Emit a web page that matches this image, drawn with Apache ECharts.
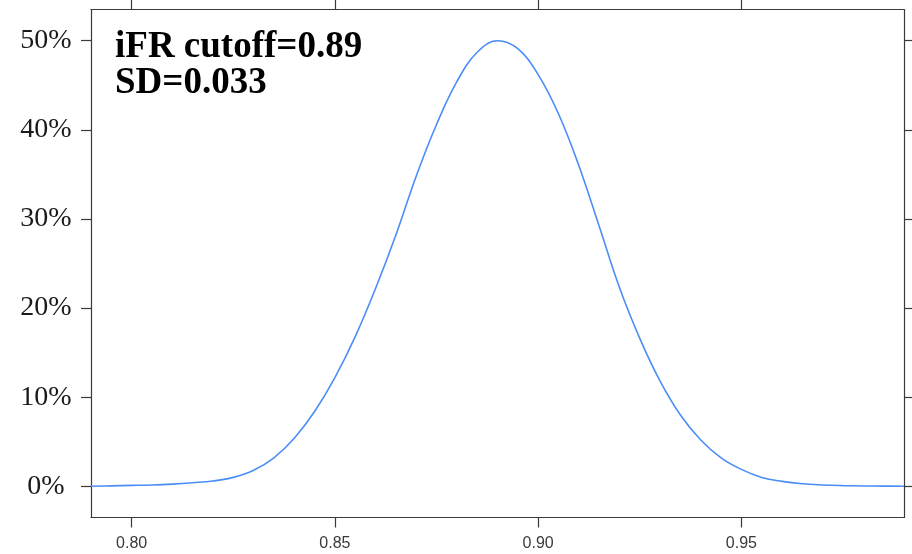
<!DOCTYPE html>
<html>
<head>
<meta charset="utf-8">
<script src="https://cdn.jsdelivr.net/npm/echarts@6/dist/echarts.min.js"></script>
<style>
  html, body { margin: 0; padding: 0; background: #fff; }
  #main { width: 912px; height: 554px; }
</style>
</head>
<body>
<div id="main"></div>
<script>
// values (x = iFR, y = percent)
var xValues = [0.790, 0.795, 0.800, 0.805, 0.810, 0.815, 0.820, 0.825, 0.830, 0.835,
               0.840, 0.845, 0.850, 0.855, 0.860, 0.865, 0.870, 0.875, 0.880, 0.885,
               0.890, 0.895, 0.900, 0.905, 0.910, 0.915, 0.920, 0.925, 0.930, 0.935,
               0.940, 0.945, 0.950, 0.955, 0.960, 0.965, 0.970, 0.975, 0.980, 0.985, 0.990];
var yValues = [0.0, 0.05, 0.1, 0.15, 0.25, 0.4, 0.6, 1.0, 1.8, 3.2,
               5.4, 8.4, 12.2, 16.8, 22.2, 28.2, 34.8, 40.6, 45.4, 48.7,
               50.0, 49.1, 46.2, 41.8, 36.0, 29.2, 22.3, 16.6, 11.8, 8.0,
               5.2, 3.2, 1.9, 1.0, 0.55, 0.28, 0.15, 0.08, 0.04, 0.02, 0.01];
var xTicks = [0.80, 0.85, 0.90, 0.95];
var yTicks = [0, 10, 20, 30, 40, 50];
var noteLines = ['iFR cutoff=0.89', 'SD=0.033'];

var chart = echarts.init(document.getElementById('main'));

var points = xValues.map(function (x, i) { return [x, yValues[i]]; });
var axisColor = '#3a3a3a';

chart.setOption({
  animation: false,
  grid: { left: 91, right: 8, top: 9.5, bottom: 36.5 },
  xAxis: [{
    type: 'value',
    min: 0.79,
    max: 0.99,
    splitLine: { show: false },
    axisLine: { onZero: false, lineStyle: { color: axisColor, width: 1.2 } },
    axisTick: { customValues: xTicks, length: 10, lineStyle: { color: axisColor, width: 1.2 } },
    axisLabel: {
      customValues: xTicks,
      margin: 18,
      fontFamily: 'Liberation Sans, Arial, sans-serif',
      fontSize: 16,
      color: '#3a3a3a',
      formatter: function (v) { return v.toFixed(2); }
    }
  }, {
    type: 'value',
    position: 'top',
    min: 0.79,
    max: 0.99,
    splitLine: { show: false },
    axisLine: { onZero: false, lineStyle: { color: axisColor, width: 1.2 } },
    axisTick: { customValues: xTicks, length: 10, lineStyle: { color: axisColor, width: 1.2 } },
    axisLabel: { show: false }
  }],
  yAxis: [{
    type: 'value',
    min: -3.5,
    max: 53.5,
    splitLine: { show: false },
    axisLine: { show: true, onZero: false, lineStyle: { color: axisColor, width: 1.2 } },
    axisTick: { show: true, customValues: yTicks, length: 10, lineStyle: { color: axisColor, width: 1.2 } },
    axisLabel: {
      customValues: yTicks,
      align: 'center',
      margin: 45,
      fontFamily: 'Liberation Serif, Times New Roman, serif',
      fontSize: 28,
      color: '#1a1a1a',
      formatter: function (v) { return v + '%'; }
    }
  }, {
    type: 'value',
    position: 'right',
    min: -3.5,
    max: 53.5,
    splitLine: { show: false },
    axisLine: { show: true, onZero: false, lineStyle: { color: axisColor, width: 1.2 } },
    axisTick: { show: true, customValues: yTicks, length: 10, lineStyle: { color: axisColor, width: 1.2 } },
    axisLabel: { show: false }
  }],
  graphic: noteLines.map(function (t, i) {
    return {
      type: 'text',
      left: 115,
      top: 29 + i * 36,
      style: {
        text: t,
        fontFamily: 'Liberation Serif, Times New Roman, serif',
        fontWeight: 'bold',
        fontSize: 37,
        fill: '#000'
      }
    };
  }),
  series: [{
    type: 'line',
    data: points,
    smooth: 0.4,
    showSymbol: false,
    lineStyle: { color: '#4b8df8', width: 1.6 }
  }]
});
</script>
</body>
</html>
